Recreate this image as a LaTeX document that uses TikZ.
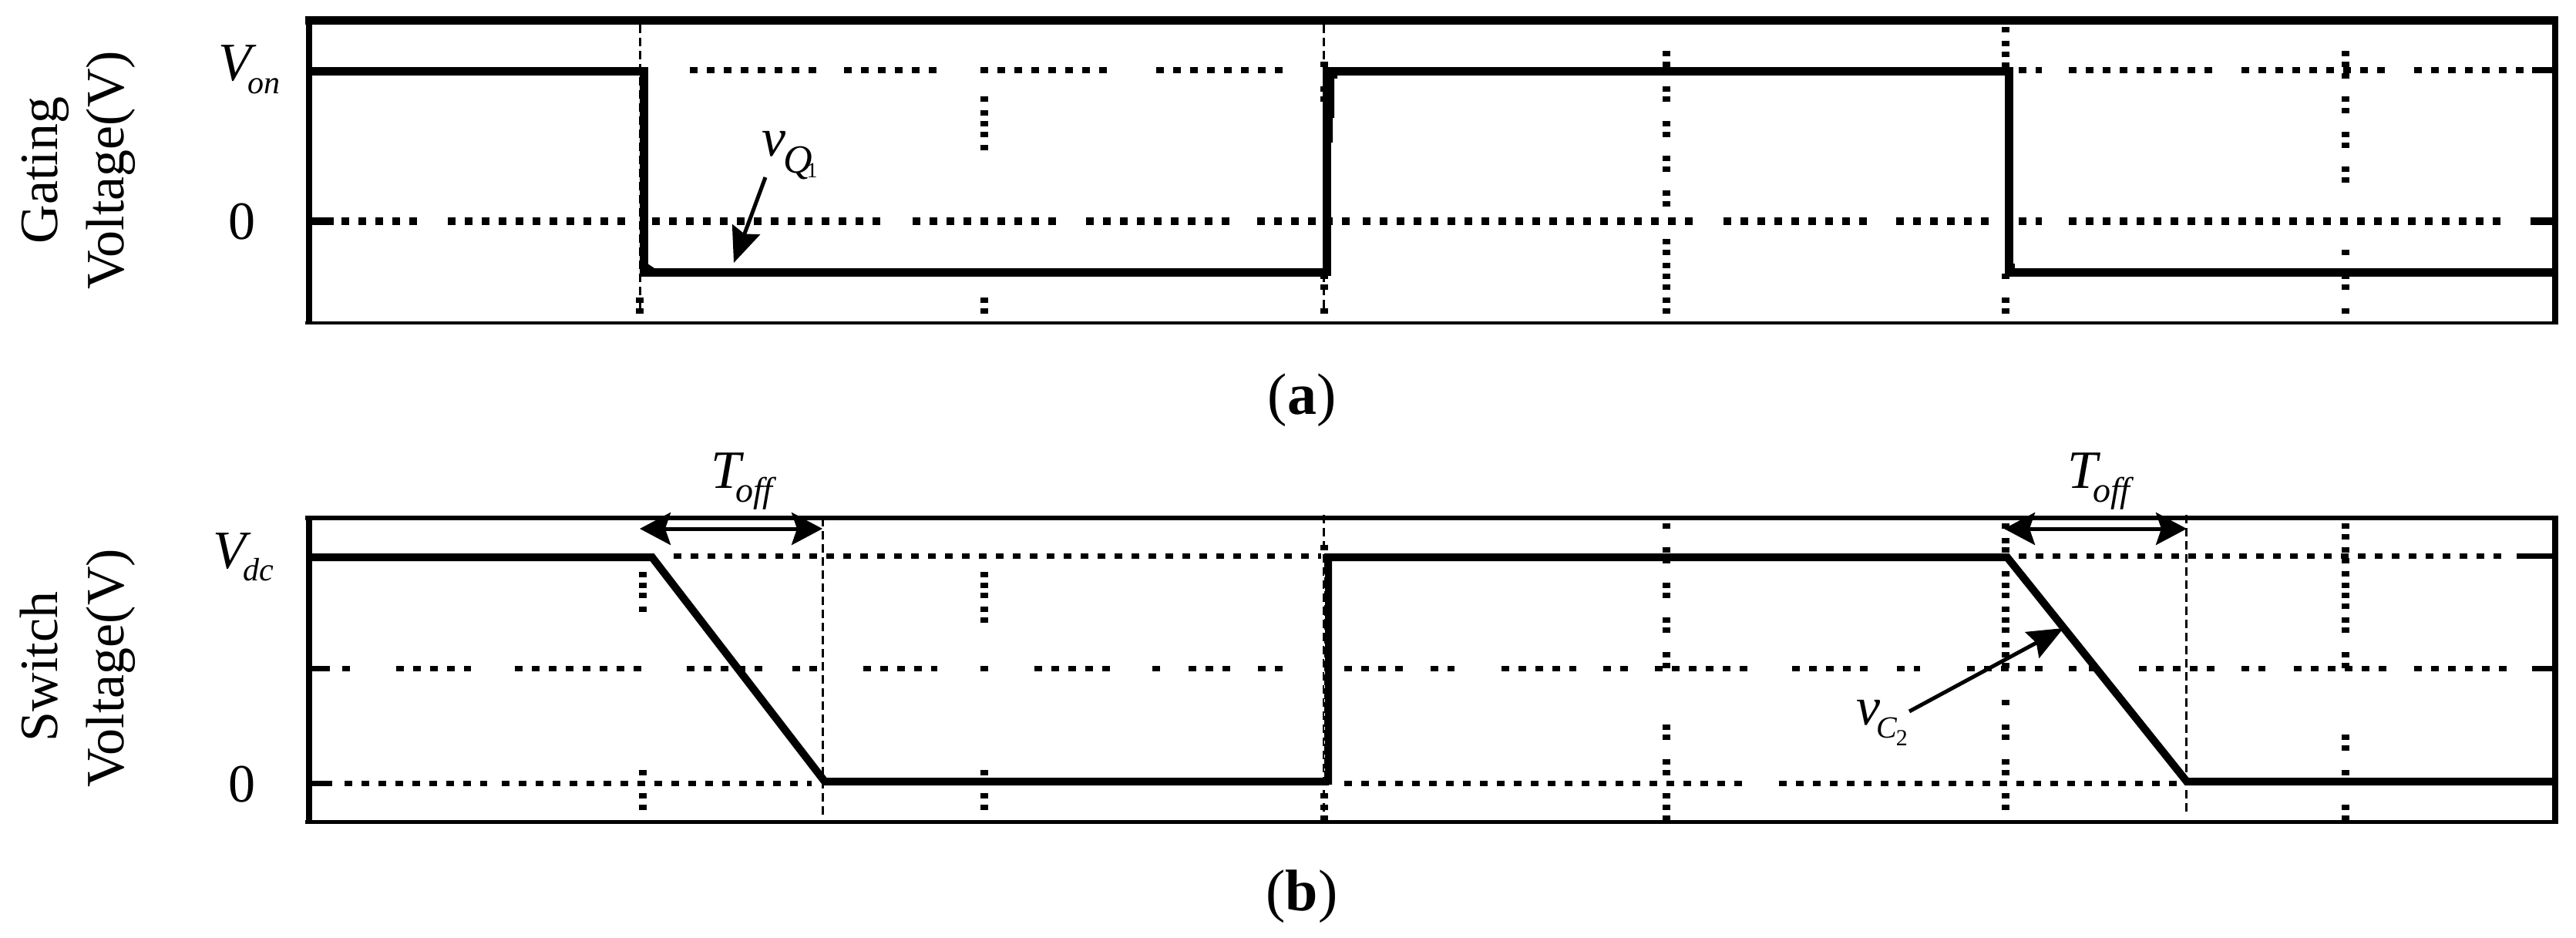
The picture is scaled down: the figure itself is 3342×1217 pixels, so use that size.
\documentclass[tikz,border=0pt]{standalone}
\usepackage{fontspec}
\setmainfont{Liberation Serif}
\usetikzlibrary{arrows.meta}
\tikzset{
  frameline/.style={draw=black,line cap=butt,line join=miter},
  signal/.style={draw=black,line width=11pt,line cap=butt,line join=miter},
  thindash/.style={draw=black,line width=3pt,dash pattern=on 11pt off 6pt},
  label/.style={inner sep=0pt,outer sep=0pt,anchor=base west,font=\fontsize{70}{80}\selectfont},
  axislabel/.style={inner sep=0pt,outer sep=0pt,rotate=90,anchor=base,font=\fontsize{70}{80}\selectfont},
  caption/.style={inner sep=0pt,outer sep=0pt,anchor=base,font=\fontsize{76}{84}\selectfont},
  spanarrow/.style={draw=black,line width=5pt,{Stealth[length=40pt,width=42pt,inset=7pt]}-{Stealth[length=40pt,width=42pt,inset=7pt]}},
  callout/.style={draw=black,line width=5pt,-{Stealth[length=46pt,width=38pt,inset=6pt]}}
}
% horizontal dotted runs: y, height, list of x1/x2
\newcommand{\hrun}[3]{\foreach \xa/\xb in {#3}{\draw[draw=black,line width=#2pt,line cap=butt,dash pattern=on 10pt off 12pt] (\xa,#1) -- (\xb,#1);}}
% vertical dotted squares, top panel (zoomed y/3)
\newcommand{\vda}[2]{\foreach \z in {#2}{\pgfmathsetmacro{\yy}{\z/3}\fill[black] ({#1-5},{\yy-3.5}) rectangle ({#1+5},{\yy+3.5});}}
% bottom panel
\newcommand{\vdb}[2]{\foreach \z in {#2}{\pgfmathsetmacro{\yy}{500+\z/2.187}\fill[black] ({#1-5},{\yy-3.5}) rectangle ({#1+5},{\yy+3.5});}}
\newcommand{\lowered}[3]{\raisebox{-#1pt}{\fontsize{#2}{#2}\selectfont\itshape #3}}
\begin{document}
\begin{tikzpicture}[x=1pt,y=-1pt]
\useasboundingbox (0,0) rectangle (3342,1217);
\fill[white] (0,0) rectangle (3342,1217);

%% ---------- panel (a) ----------
\hrun{91}{8}{895/1060,1095/1216,1272/1440,1500/1665,2619/2649,2684/2874,2908/3097,3132/3276}
\draw[black,line width=8pt] (3285,91) -- (3311,91);
\hrun{287}{10}{443/546,581/815,846/1147,1184/1374,1409/1598,1631/1752,1768/2202,2236/2427,2460/2580,2619/2649,2684/3254}
\draw[black,line width=10pt] (400,287) -- (433,287);
\draw[black,line width=10pt] (3283,287) -- (3311,287);
\draw[thindash] (830,32) -- (830,407);
\draw[thindash] (1717.5,32) -- (1717.5,407);
\vda{830}{1168,1210}
\vda{1717.5}{252,346,387,1075,1116,1210}
\vda{1277}{387,440,481,523,575,1168,1210}
\vda{2162}{210,252,346,387,481,523,616,658,752,793,939,981,1032,1074,1116,1168,1210}
\vda{2602}{117,169,211,253,1075,1168,1210}
\vda{3043}{210,252,295,387,430,523,565,658,700,981,1075,1116,1210}
\draw[frameline,line width=11pt] (396,27) -- (3319,27);
\draw[frameline,line width=4.5pt] (396,419) -- (3319,419);
\draw[frameline,line width=8pt] (400.5,22) -- (400.5,421);
\draw[frameline,line width=8pt] (3315,22) -- (3315,421);
\draw[signal] (404,93) -- (835,93) -- (835,353) -- (1721,353);
\draw[signal] (1721,358) -- (1721,93) -- (2606,93) -- (2606,353) -- (3311,353);
\fill[black] (1716,98) -- (1735,98) -- (1735,102) -- (1731,102) -- (1731,153) -- (1729,153) -- (1729,185) -- (1716,185) -- cycle;
\fill[black] (830,296) rectangle (840,348);
\fill[black] (840,342) -- (849,348) -- (840,348) -- cycle;
\fill[black] (2606,342) rectangle (2614,348);

%% ---------- panel (b) ----------
\hrun{721}{7}{874/1714,2619/3256}
\draw[black,line width=7pt] (3265,721) -- (3311,721);
\hrun{867}{7}{444/454,514/611,668/835,891/993,1028/1060,1120/1216,1272/1282,1342/1440,1495/1505,1542/1598,1632/1665,1744/1823,1856/1887,1948/2045,2080/2112,2147/2269,2325/2426,2461/2491,2552/2650,2684/2695,2710/2724,2775/2874,2908/2939,2976/3097,3132/3254}
\draw[black,line width=7pt] (400,867) -- (428,867);
\draw[black,line width=7pt] (3285,867) -- (3311,867);
\hrun{1016}{7}{447/632,651/1053,1744/2269,2308/2826}
\draw[black,line width=7pt] (400,1016) -- (431,1016);
\draw[thindash] (1067,672) -- (1067,1060);
\draw[thindash] (1717.5,668) -- (1717.5,1066);
\draw[thindash] (2836,668) -- (2836,1054);
\vdb{834}{537,567,597,635,1098,1165,1197}
\vdb{1277}{537,567,597,635,665,1098,1165,1197}
\vdb{1717.5}{460,1165,1197,1227}
\vdb{2162}{400,467,497,567,597,665,695,765,795,970,999,1069,1098,1165,1197,1227}
\vdb{2602}{400,440,467,535,567,597,635,665,695,735,765,795,900,970,999,1069,1098,1165,1197}
\vdb{3043}{400,430,467,497,535,567,597,627,665,695,765,795,999,1030,1098,1197,1227}
\draw[frameline,line width=6pt] (396,672) -- (3319,672);
\draw[frameline,line width=5pt] (396,1066) -- (3319,1066);
\draw[frameline,line width=8pt] (400.5,669) -- (400.5,1068);
\draw[frameline,line width=8pt] (3315,669) -- (3315,1068);
\draw[signal,line width=10pt] (404,723) -- (846,723) -- (1070,1014) -- (1724,1014);
\draw[signal,line width=10pt] (1723,1018) -- (1723,723) -- (2604,723) -- (2837,1014) -- (3311,1014);
\draw[white,line width=1pt,dash pattern=on 4pt off 14pt] (1718,745) -- (1718,1000);

%% ---------- labels ----------
\node[label] (gate1) [axislabel] at (74,221) {Gating};
\node[axislabel] (gate2) at (160,221) {Voltage(V)};
\node[axislabel] (sw1) at (74,865) {Switch};
\node[axislabel] (sw2) at (160,867) {Voltage(V)};
\node[label] (von) at (283,105) {\textit{V}\kern-11pt\lowered{17}{42}{on}};
\node[label] (zeroa) at (296,310) {0};
\node[label] (vdc) at (276,737) {\textit{V}\kern-10pt\lowered{16}{42}{dc}};
\node[label] (zerob) at (296,1040) {0};
\node[label] (vq) at (988,203) {\textit{v}\kern-3pt\lowered{22}{52}{Q}\kern-7pt\lowered{28}{28}{\upshape 1}};
\node[label] (vc) at (2408,940) {\textit{v}\kern-5pt\lowered{17}{40}{C}\kern-1pt\lowered{27}{30}{\upshape 2}};
\node[label] (toffa) at (922,633) {\textit{T}\kern-11pt\lowered{18}{46}{off}};
\node[label] (toffb) at (2682,633) {\textit{T}\kern-10pt\lowered{18}{46}{off}};
\node[caption] (capa) at (1689,537) {(\textbf{a})};
\node[caption] (capb) at (1689,1181) {(\textbf{b})};

%% ---------- arrows ----------
\coordinate (q0) at (993,230);
\coordinate (q1) at (952,341);
\coordinate (c0) at (2477,923);
\coordinate (c1) at (2677,815);
\coordinate (ta0) at (830,686);
\coordinate (ta1) at (1067,686);
\coordinate (tb0) at (2600,686);
\coordinate (tb1) at (2837,686);
\draw[callout] (q0) -- (q1);
\draw[callout] (c0) -- (c1);
\draw[spanarrow] (ta0) -- (ta1);
\draw[spanarrow] (tb0) -- (tb1);
\end{tikzpicture}
\end{document}
